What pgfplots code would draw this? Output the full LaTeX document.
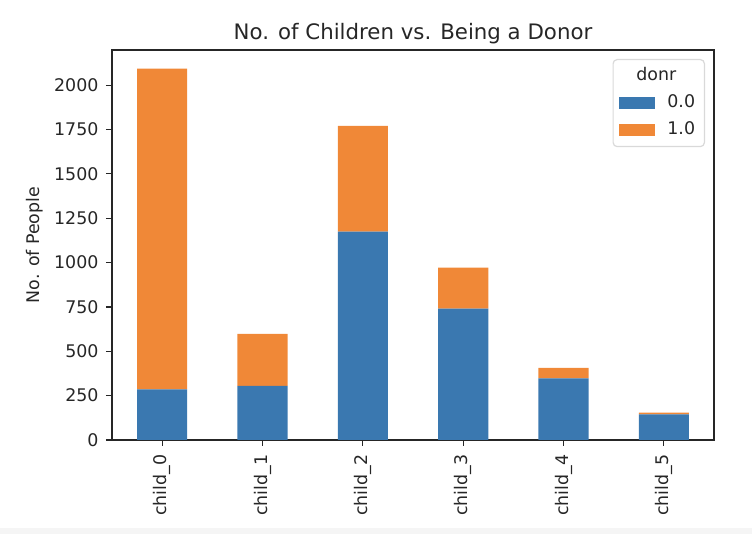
\documentclass[border=0pt]{standalone}
\usepackage{fontspec}
\setmainfont{DejaVu Sans}
\usepackage{pgfplots}
\pgfplotsset{compat=1.18}
\definecolor{barblue}{RGB}{58,120,176}
\definecolor{barorange}{RGB}{240,136,55}
\newcommand{\tickfont}{\fontsize{17.4}{20}\selectfont}
\begin{document}
\begin{tikzpicture}
\path[use as bounding box] (-112pt,-94pt) rectangle (640pt,440pt);
\fill[black!4] (-112pt,-94pt) rectangle (640pt,-88pt);
\begin{axis}[
  scale only axis,
  width=602pt, height=390pt,
  ybar stacked, bar width=0.5,
  xmin=-0.5, xmax=5.5, ymin=0, ymax=2198,
  enlargelimits=false,
  xtick={0,1,2,3,4,5},
  xticklabels={child\_0,child\_1,child\_2,child\_3,child\_4,child\_5},
  ytick={0,250,...,2000},
  /pgf/number format/assume math mode=true,
  /pgf/number format/1000 sep={},
  tick pos=left, tick align=outside,
  major tick length=6pt,
  tick style={black!85, line width=1.2pt},
  axis line style={black!85, line width=1.2pt},
  every tick label/.append style={font=\tickfont, text=black!85},
  xticklabel style={rotate=90, anchor=east, xshift=-5pt},
  yticklabel style={xshift=-4pt},
  every axis title shift=0pt,
  title={No. of Children vs. Being a Donor},
  title style={font=\fontsize{21.3}{24}\selectfont, text=black!85,
    at={(axis description cs:0.5,1)}, anchor=base, yshift=10.5pt},
  ylabel={No. of People},
  ylabel style={font=\tickfont, text=black!85,
    at={(axis description cs:0,0.5)}, anchor=base, yshift=72pt},
  legend image code/.code={\draw[#1, draw=none, sharp corners] (0pt,-6pt) rectangle (36pt,6pt);},
  legend style={at={(rel axis cs:1,1)}, anchor=north east,
    xshift=-9pt, yshift=-9pt,
    draw=black!15, line width=1.2pt, rounded corners=4pt,
    font=\tickfont, text=black!85,
    inner xsep=6.3pt, inner ysep=8pt,
    nodes={inner sep=0pt, text height=13pt, text depth=4pt},
    column sep=12pt, row sep=10pt},
  legend cell align=left,
]
\addlegendimage{empty legend}
\addlegendentry{\hspace*{-31pt}donr}
\addplot[fill=barblue, draw=none] coordinates {
  (0,285) (1,305) (2,1175) (3,740) (4,347) (5,144)};
\addlegendentry{0.0\hspace*{3pt}}
\addplot[fill=barorange, draw=none] coordinates {
  (0,1808) (1,293) (2,596) (3,231) (4,60) (5,10)};
\addlegendentry{1.0\hspace*{3pt}}
\end{axis}
\end{tikzpicture}
\end{document}
